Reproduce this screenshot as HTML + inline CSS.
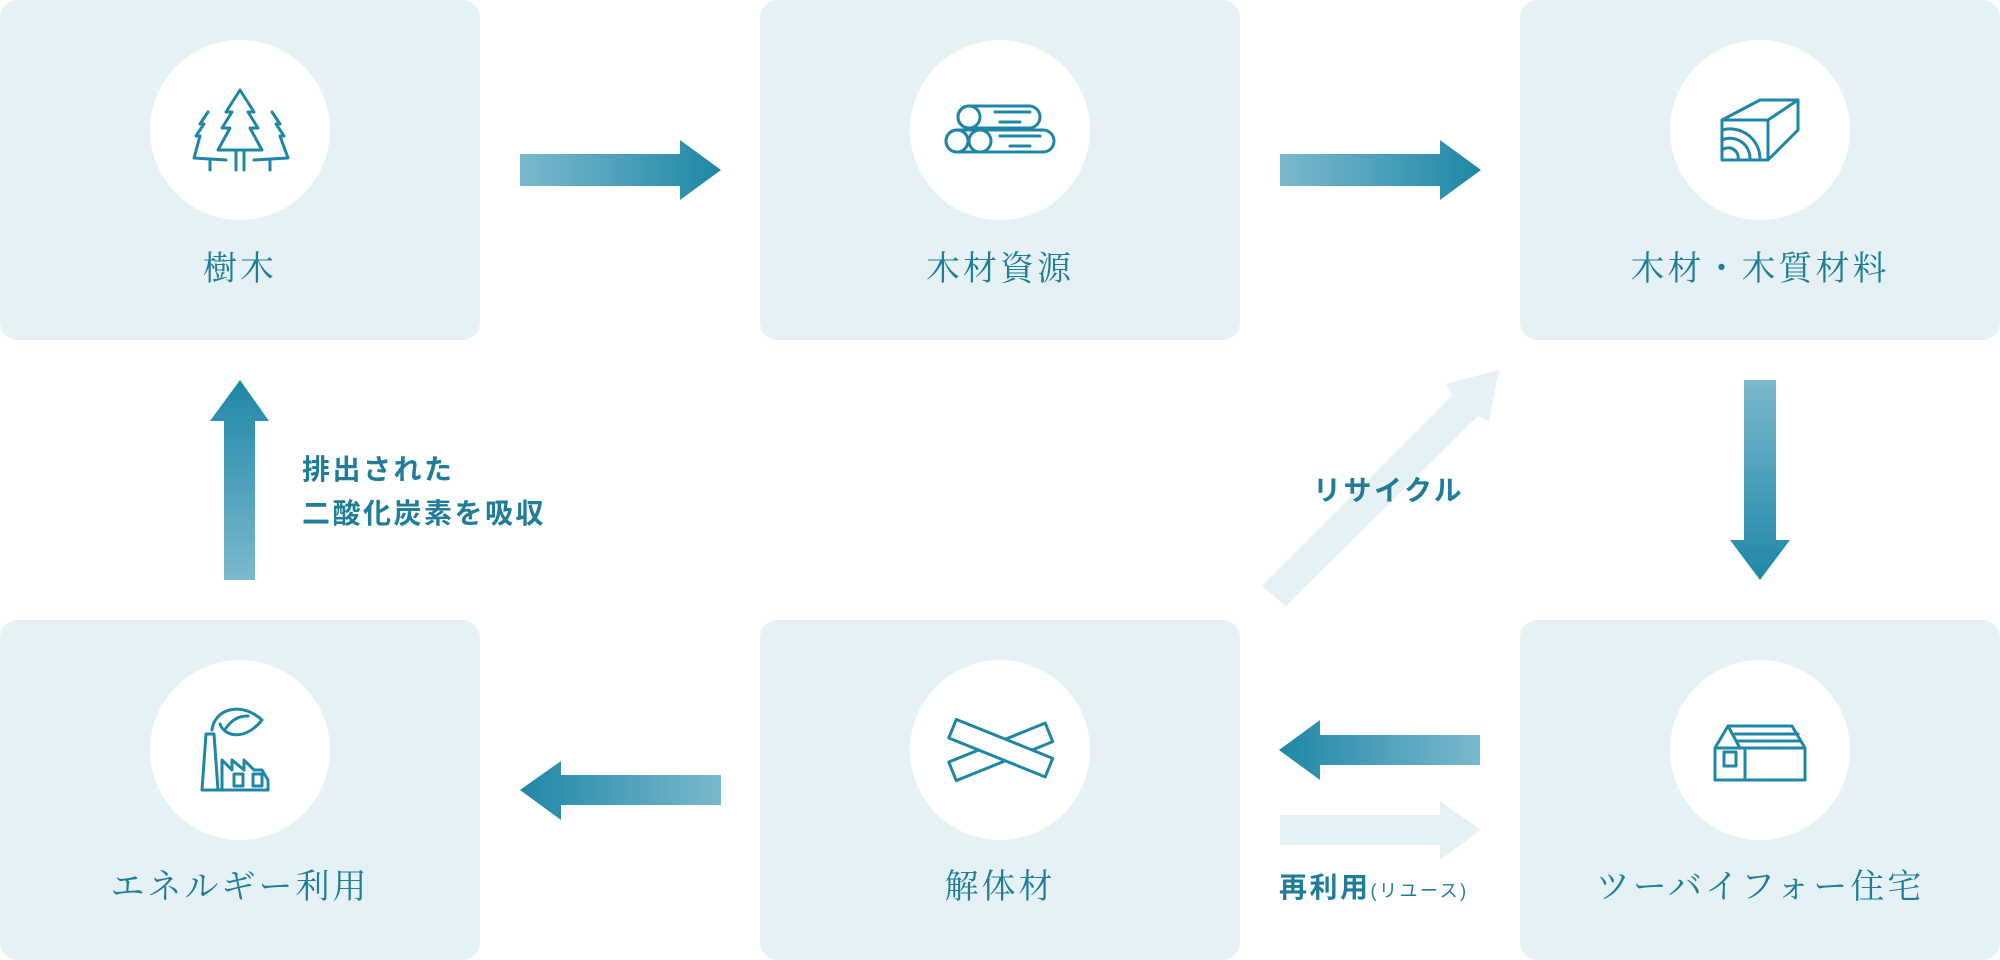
<!DOCTYPE html>
<html><head><meta charset="utf-8"><style>
html,body{margin:0;padding:0;background:#fff;width:2000px;height:960px;overflow:hidden}
svg{display:block}
.lbl{font-family:"Liberation Serif","Noto Serif CJK SC",serif;font-size:34px;fill:#1f7d99;letter-spacing:3px}
.b{font-family:"Liberation Sans","Noto Sans CJK JP",sans-serif;font-weight:bold;font-size:28px;fill:#1f7d99;letter-spacing:2.5px}
.ic{fill:none;stroke:#1f86a5;stroke-width:3;stroke-linejoin:round;stroke-linecap:round}
</style></head><body>
<svg width="2000" height="960" viewBox="0 0 2000 960" xmlns="http://www.w3.org/2000/svg">
<defs>
<linearGradient id="gr" x1="0" x2="1" y1="0" y2="0"><stop offset="0" stop-color="#7bb9cd"/><stop offset="1" stop-color="#1e87a6"/></linearGradient>
<linearGradient id="gl" x1="1" x2="0" y1="0" y2="0"><stop offset="0" stop-color="#7bb9cd"/><stop offset="1" stop-color="#1e87a6"/></linearGradient>
<linearGradient id="gd" x1="0" x2="0" y1="0" y2="1"><stop offset="0" stop-color="#7bb9cd"/><stop offset="1" stop-color="#1e87a6"/></linearGradient>
<linearGradient id="gu" x1="0" x2="0" y1="1" y2="0"><stop offset="0" stop-color="#7bb9cd"/><stop offset="1" stop-color="#1e87a6"/></linearGradient>
</defs>
<g fill="#e5f1f5">
<rect x="0" y="0" width="480" height="340" rx="18"/>
<rect x="760" y="0" width="480" height="340" rx="18"/>
<rect x="1520" y="0" width="480" height="340" rx="18"/>
<rect x="0" y="620" width="480" height="340" rx="18"/>
<rect x="760" y="620" width="480" height="340" rx="18"/>
<rect x="1520" y="620" width="480" height="340" rx="18"/>
</g>
<g fill="#fff">
<circle cx="240" cy="130" r="90"/><circle cx="1000" cy="130" r="90"/><circle cx="1760" cy="130" r="90"/>
<circle cx="240" cy="750" r="90"/><circle cx="1000" cy="750" r="90"/><circle cx="1760" cy="750" r="90"/>
</g>
<g text-anchor="middle" class="lbl">
<text class="lbl" x="240" y="280">樹木</text>
<text class="lbl" x="1000" y="280">木材資源</text>
<text class="lbl" x="1760" y="280">木材・木質材料</text>
<text class="lbl" x="240" y="898">エネルギー利用</text>
<text class="lbl" x="1000" y="898">解体材</text>
<text class="lbl" x="1760" y="898">ツーバイフォー住宅</text>
</g>
<g class="ic">
<path d="M240 90 L226 112 L232 112 L222 128 L230 128 L218 150 L262 150 L250 128 L258 128 L248 112 L254 112 Z M236 150 V170 M244 150 V170"/>
<path d="M208 112 L200 124 L204 124 L196 136 L200 136 L194 158 L226 160 M272 112 L280 124 L276 124 L284 136 L280 136 L288 158 L254 160 M210 160 V170 M270 160 V170"/>
<rect x="958" y="106" width="82" height="22" rx="11"/><circle cx="969" cy="117" r="11"/>
<rect x="946" y="130" width="108" height="22" rx="11"/><circle cx="957" cy="141" r="11"/><circle cx="980" cy="141" r="11"/>
<path d="M995 112 H1030 M1000 122 H1020 M1000 136 H1040 M1010 146 H1030"/>
<path d="M1722 120 L1760 100 L1798 100 L1798 130 L1768 160 L1722 160 Z M1722 120 H1768 L1798 100 M1768 120 V160 M1722 130 A30 30 0 0 1 1760 160 M1722 140 A20 20 0 0 1 1750 160 M1722 150 A10 10 0 0 1 1738 160"/>
<path d="M1715 748 L1728 726 L1792 726 L1805 748 V780 H1715 Z M1715 748 H1805 M1745 748 V780 M1728 726 L1740 748 M1735 734 H1798 M1738 741 H1801"/><rect x="1724" y="752" width="12" height="14"/>
<path d="M202 790 L206 734 H214 L218 790 Z M222 790 V760 L232 770 V760 L244 770 V760 L254 770 H262 L268 780 V790 Z M202 790 H268"/><rect x="234" y="774" width="9" height="12"/><rect x="253" y="774" width="9" height="12"/>
<path d="M212 730 C214 710 240 700 262 720 C244 742 224 736 220 724 M226 728 C232 720 238 716 248 716"/>
<g transform="translate(1000 750) rotate(-22)"><rect x="-52" y="-8" width="104" height="20" fill="#fff"/></g>
<g transform="translate(1000 750) rotate(22)"><rect x="-52" y="-12" width="104" height="20" fill="#fff"/></g>
</g>
<path d="M520 154 H680 V140 L721 170 L680 200 V186 H520 Z" fill="url(#gr)"/>
<path d="M1280 154 H1440 V140 L1481 170 L1440 200 V186 H1280 Z" fill="url(#gr)"/>
<path d="M1744 380 H1776 V540 H1790 L1760 580 L1730 540 H1744 Z" fill="url(#gd)"/>
<path d="M224 580 V421 H210 L240 380 L269 421 H255 V580 Z" fill="url(#gu)"/>
<path d="M1480 735 H1320 V720 L1279 750 L1320 780 V765 H1480 Z" fill="url(#gl)"/>
<path d="M721 775 H561 V761 L520 790 L561 820 V805 H721 Z" fill="url(#gl)"/>
<path d="M1280 815 H1440 V801 L1481 830 L1440 860 V845 H1280 Z" fill="#e5f1f5"/>
<path d="M1262 586 L1452 396 L1446 384 L1499 370 L1489 422 L1478 416 L1286 606 Z" fill="#e5f1f5"/>
<text class="b" x="302" y="479">排出された</text>
<text class="b" x="302" y="523">二酸化炭素を吸収</text>
<text class="b" x="1313" y="500">リサイクル</text>
<text class="b" x="1279" y="897">再利用<tspan font-size="18" font-weight="normal">(リユース)</tspan></text>
</svg>
</body></html>
